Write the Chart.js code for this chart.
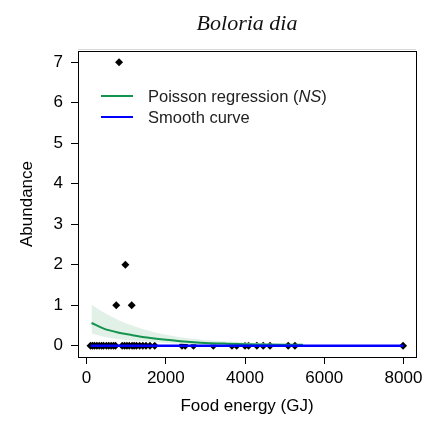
<!DOCTYPE html>
<html><head><meta charset="utf-8">
<script src="https://cdn.jsdelivr.net/npm/chart.js@4.4.1/dist/chart.umd.min.js"></script>
<style>html,body{margin:0;padding:0;background:#fff;}#wrap{width:438px;height:422px;}</style>
</head><body><div id="wrap"><canvas id="c" width="438" height="422"></canvas></div>
<script>
const chartTitle = "Boloria dia";
const xTitle = "Food energy (GJ)";
const yTitle = "Abundance";
const xTicks = [0, 2000, 4000, 6000, 8000];
const yTicks = [0, 1, 2, 3, 4, 5, 6, 7];

const obsEnergy = [100,150,200,260,320,380,430,500,560,620,680,730,750,820,900,960,980,1020,1080,1140,1150,1200,1260,1340,1420,1500,1600,1720,2410,2490,2700,3200,3670,3790,4000,4090,4300,4460,4630,5090,5260,7990];
const obsAbundance = [0,0,0,0,0,0,0,0,0,0,0,0,1,7,0,0,2,0,0,1,0,0,0,0,0,0,0,0,0,0,0,0,0,0,0,0,0,0,0,0,0,0];

const fitEnergy = [126, 435, 813, 1150, 1527, 1945, 2365, 2868, 3540, 4377, 5460];
const fitMean   = [0.56, 0.42, 0.32, 0.26, 0.20, 0.15, 0.11, 0.075, 0.05, 0.03, 0.02];
const fitUpper  = [1.02, 0.82, 0.63, 0.50, 0.38, 0.28, 0.21, 0.15, 0.10, 0.06, 0.03];
const fitLower  = [0.30, 0.22, 0.16, 0.13, 0.10, 0.07, 0.05, 0.03, 0.02, 0.01, 0.01];

const smoothEnergy = [100, 1000, 2000, 4000, 6000, 8000];
const smoothAbundance = [0, 0, 0, 0, 0, 0];

const legendLabels = [["Poisson regression (", "NS", ")"], ["Smooth curve"]];

const FONT = "'Liberation Sans', Arial, sans-serif";
const GREEN = '#14934f', BLUE = '#0000ff', BAND = '#e1f1e7';

const pts = (xs, ys) => xs.map((x, i) => ({x: x, y: ys[i]}));

const decor = {
  id: 'decor',
  beforeDraw(chart) {
    const ctx = chart.ctx, a = chart.chartArea;
    ctx.save();
    ctx.fillStyle = '#111';
    ctx.font = "italic 22px 'Liberation Serif', 'Times New Roman', serif";
    ctx.textAlign = 'center'; ctx.textBaseline = 'middle';
    ctx.fillText(chartTitle, (a.left + a.right) / 2, 24);
    ctx.strokeStyle = '#d9d9d9'; ctx.lineWidth = 1;
    ctx.beginPath(); ctx.moveTo(a.left, 49.5); ctx.lineTo(a.right, 49.5); ctx.stroke();
    ctx.restore();
  },
  afterDraw(chart) {
    const ctx = chart.ctx, a = chart.chartArea;
    ctx.save();
    ctx.strokeStyle = '#000'; ctx.lineWidth = 1;
    ctx.strokeRect(Math.round(a.left) + 0.5, Math.round(a.top) + 0.5, Math.round(a.right - a.left), Math.round(a.bottom - a.top));
    const cols = [GREEN, BLUE];
    const ys = [96, 117];
    ctx.textBaseline = 'middle'; ctx.textAlign = 'left';
    legendLabels.forEach((parts, i) => {
      ctx.strokeStyle = cols[i]; ctx.lineWidth = 2;
      ctx.beginPath(); ctx.moveTo(101, ys[i]); ctx.lineTo(133, ys[i]); ctx.stroke();
      let x = 148;
      ctx.fillStyle = '#222';
      parts.forEach((p, j) => {
        ctx.font = (j === 1 ? 'italic ' : '') + '16.5px ' + FONT;
        ctx.fillText(p, x, ys[i] + 1);
        x += ctx.measureText(p).width;
      });
    });
    ctx.restore();
  }
};

new Chart(document.getElementById('c'), {
  type: 'scatter',
  data: {
    datasets: [
      {label: 'Smooth curve', data: pts(smoothEnergy, smoothAbundance), showLine: true, borderColor: BLUE, borderWidth: 2.5, pointRadius: 0, order: 0},
      {label: 'Poisson regression', data: pts(fitEnergy, fitMean), showLine: true, borderColor: GREEN, borderWidth: 2, pointRadius: 0, cubicInterpolationMode: 'monotone', order: 1},
      {label: 'lower', data: pts(fitEnergy, fitLower), showLine: true, borderWidth: 0, borderColor: 'rgba(0,0,0,0)', pointRadius: 0, cubicInterpolationMode: 'monotone', order: 2},
      {label: 'upper', data: pts(fitEnergy, fitUpper), showLine: true, borderWidth: 0, borderColor: 'rgba(0,0,0,0)', backgroundColor: BAND, fill: 2, pointRadius: 0, cubicInterpolationMode: 'monotone', order: 3},
      {label: 'obs', data: pts(obsEnergy, obsAbundance), pointStyle: 'rectRot', pointRadius: 4, backgroundColor: '#000', borderColor: '#000', borderWidth: 0, order: 4}
    ]
  },
  options: {
    responsive: false, animation: false, devicePixelRatio: 1,
    layout: {padding: {left: 0, right: 22, top: 51, bottom: 0}},
    plugins: {legend: {display: false}, title: {display: false}, tooltip: {enabled: false}, filler: {propagate: false}},
    scales: {
      x: {
        type: 'linear', min: -216, max: 8316,
        afterBuildTicks: s => { s.ticks = xTicks.map(v => ({value: v})); },
        afterFit: s => { s.height = 65; },
        grid: {display: true, drawOnChartArea: false, drawTicks: true, tickLength: 7, tickColor: '#000', tickWidth: 1},
        border: {display: false},
        ticks: {color: '#000', padding: 4, font: {family: FONT, size: 17}, maxRotation: 0, callback: v => String(v)},
        title: {display: true, text: xTitle, color: '#000', font: {family: FONT, size: 17}, padding: {top: 0, bottom: 5}}
      },
      y: {
        type: 'linear', min: -0.28, max: 7.28,
        afterBuildTicks: s => { s.ticks = yTicks.map(v => ({value: v})); },
        afterFit: s => { s.width = 78; },
        grid: {display: true, drawOnChartArea: false, drawTicks: true, tickLength: 7, tickColor: '#000', tickWidth: 1},
        border: {display: false},
        ticks: {color: '#000', padding: 8, font: {family: FONT, size: 17}, callback: v => String(v)},
        title: {display: true, text: yTitle, color: '#000', font: {family: FONT, size: 17}, padding: {top: 17, bottom: 0}}
      }
    }
  },
  plugins: [decor]
});
</script></body></html>
